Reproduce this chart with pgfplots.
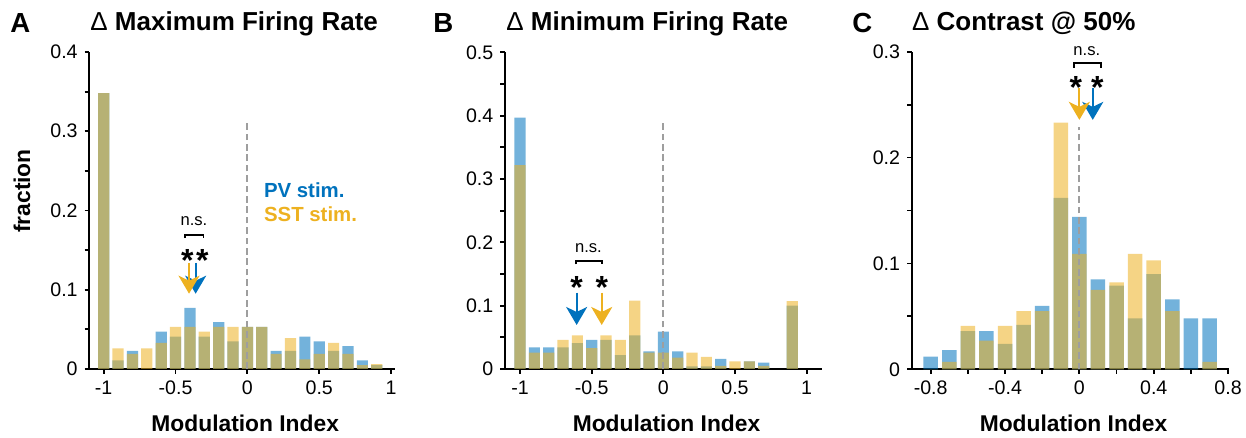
\documentclass[border=0pt]{standalone}
\usepackage{fontspec}
\setmainfont{Liberation Sans}
\usepackage{pgfplots}
\usepackage{pgfplotstable}
\pgfplotsset{compat=1.18}
\usetikzlibrary{arrows.meta}
\definecolor{pvblue}{HTML}{0072BD}
\definecolor{sstyel}{HTML}{EDB120}

\pgfplotstableread{
x pv sst
-1.0 0.348 0.348
-0.9 0.011 0.026
-0.8 0.023 0.019
-0.7 0.000 0.026
-0.6 0.047 0.033
-0.5 0.041 0.053
-0.4 0.077 0.053
-0.3 0.041 0.047
-0.2 0.059 0.053
-0.1 0.035 0.053
0.0 0.053 0.053
0.1 0.053 0.053
0.2 0.023 0.019
0.3 0.023 0.039
0.4 0.041 0.012
0.5 0.035 0.019
0.6 0.023 0.033
0.7 0.029 0.019
0.8 0.011 0.005
0.9 0.005 0.006
}\dataA

\pgfplotstableread{
x pv sst
-1.0 0.397 0.322
-0.9 0.034 0.026
-0.8 0.034 0.026
-0.7 0.034 0.046
-0.6 0.041 0.053
-0.5 0.046 0.033
-0.4 0.046 0.053
-0.3 0.022 0.046
-0.2 0.053 0.108
-0.1 0.028 0.026
0.0 0.059 0.026
0.1 0.028 0.018
0.2 0.004 0.026
0.3 0.004 0.019
0.4 0.016 0.005
0.5 0.000 0.012
0.6 0.012 0.012
0.7 0.010 0.005
0.9 0.100 0.107
}\dataB

\pgfplotstableread{
x pv sst
-0.8 0.012 0.000
-0.7 0.018 0.007
-0.6 0.036 0.041
-0.5 0.036 0.027
-0.4 0.024 0.041
-0.3 0.042 0.055
-0.2 0.060 0.055
-0.1 0.162 0.233
0.0 0.144 0.109
0.1 0.085 0.075
0.2 0.079 0.082
0.3 0.048 0.109
0.4 0.090 0.103
0.5 0.066 0.055
0.6 0.048 0.000
0.7 0.048 0.007
}\dataC

\newcommand{\tickfont}{\fontsize{9.8}{11}\selectfont}
\newcommand{\labfont}{\fontsize{11.4}{13}\selectfont\bfseries}
\newcommand{\legfont}{\fontsize{10.2}{12}\selectfont\bfseries}
\newcommand{\starfont}{\fontsize{16}{16}\selectfont\bfseries}
\newcommand{\nsfont}{\fontsize{8.3}{9}\selectfont}
\newcommand{\titfont}{\fontsize{13}{14}\selectfont\bfseries}
\newcommand{\letfont}{\fontsize{13.8}{15}\selectfont\bfseries}

\pgfplotsset{
  panel/.style={
    scale only axis, anchor=south west,
    axis lines=left, axis line style={-, line width=0.9pt},
    tick align=outside, major tick length=2.3pt, minor tick length=2.3pt,
    tick style={black, line width=0.9pt},
    clip=false, ymin=0,
    /pgf/number format/assume math mode=true,
    tick label style={font=\tickfont},
    label style={font=\labfont},
    xlabel={Modulation Index},
    xlabel style={at={(axis description cs:0.51,-0.196)}, anchor=base},
  },
  pvbar/.style={ybar, bar width=0.078, bar shift=0pt, draw=none, fill=pvblue, fill opacity=0.55},
  sstbar/.style={ybar, bar width=0.078, bar shift=0pt, draw=none, fill=sstyel, fill opacity=0.55},
  zeroline/.style={draw=black!38, line width=0.9pt, dash pattern=on 3.3pt off 1.9pt, mark=none},
  arr/.style={line width=1.1pt, mark=none, -{Stealth[length=9pt,width=10.5pt,inset=2.5pt]}},
}
\tikzset{
  star/.style={font=\starfont, anchor=base, yshift=-9.2pt, inner sep=0pt},
}

\begin{document}
\begin{tikzpicture}
\path[use as bounding box] (0,0) rectangle (623pt,219pt);

% ---------------- Panel A
\begin{axis}[panel, at={(44.65pt,34.5pt)}, width=152.85pt, height=158.5pt,
  xmin=-1.1, xmax=1.027, ymax=0.4,
  xtick={-1,-0.5,0,0.5,1}, xticklabels={-1,-0.5,0,0.5,1},
  ytick={0,0.1,0.2,0.3,0.4}, yticklabels={0,0.1,0.2,0.3,0.4},
  minor ytick={0.05,0.15,0.25,0.35},
  ylabel={fraction},
  ylabel style={at={(axis description cs:-0.220,0.5615)}, anchor=center},
]
\addplot[pvbar] table[x=x,y=pv]{\dataA};
\addplot[sstbar] table[x=x,y=sst]{\dataA};
\addplot[zeroline] coordinates {(0,0) (0,0.312)};
\addplot[arr, pvblue] coordinates {(-0.36,0.134) (-0.36,0.095)};
\addplot[arr, sstyel] coordinates {(-0.406,0.134) (-0.406,0.095)};
\node[star] at (axis cs:-0.4175,0.1467) {*};
\node[star] at (axis cs:-0.313,0.1467) {*};
\draw[line width=0.9pt] (axis cs:-0.435,0.165) -- (axis cs:-0.435,0.169) -- (axis cs:-0.306,0.169) -- (axis cs:-0.306,0.165);
\node[font=\nsfont, anchor=base, inner sep=0pt] at (axis cs:-0.372,0.1816) {n.s.};
\node[font=\legfont, text=pvblue, anchor=base west, inner sep=0pt] at (axis cs:0.113,0.216) {PV stim.};
\node[font=\legfont, text=sstyel, anchor=base west, inner sep=0pt] at (axis cs:0.113,0.186) {SST stim.};
\end{axis}

% ---------------- Panel B
\begin{axis}[panel, at={(252.5pt,34.5pt)}, width=158.35pt, height=158.35pt,
  xmin=-1.105, xmax=1.105, ymax=0.5,
  xtick={-1,-0.5,0,0.5,1}, xticklabels={-1,-0.5,0,0.5,1},
  ytick={0,0.1,0.2,0.3,0.4,0.5}, yticklabels={0,0.1,0.2,0.3,0.4,0.5},
  minor ytick={0.05,0.15,0.25,0.35,0.45},
]
\addplot[pvbar] table[x=x,y=pv]{\dataB};
\addplot[sstbar] table[x=x,y=sst]{\dataB};
\addplot[zeroline] coordinates {(0,0) (0,0.39)};
\addplot[arr, pvblue] coordinates {(-0.605,0.1205) (-0.605,0.0695)};
\addplot[arr, sstyel] coordinates {(-0.430,0.1205) (-0.430,0.0695)};
\node[star] at (axis cs:-0.605,0.1406) {*};
\node[star] at (axis cs:-0.430,0.1406) {*};
\draw[line width=0.9pt] (axis cs:-0.612,0.165) -- (axis cs:-0.612,0.171) -- (axis cs:-0.426,0.171) -- (axis cs:-0.426,0.165);
\node[font=\nsfont, anchor=base, inner sep=0pt] at (axis cs:-0.523,0.184) {n.s.};
\end{axis}

% ---------------- Panel C
\begin{axis}[panel, at={(455.85pt,34.35pt)}, width=158.65pt, height=158.8pt,
  xmin=-0.902, xmax=0.805, ymax=0.3,
  xtick={-0.8,-0.4,0,0.4,0.8}, xticklabels={-0.8,-0.4,0,0.4,0.8},
  minor xtick={-0.6,-0.2,0.2,0.6},
  ytick={0,0.1,0.2,0.3}, yticklabels={0,0.1,0.2,0.3},
  minor ytick={0.05,0.15,0.25},
]
\addplot[pvbar] table[x=x,y=pv]{\dataC};
\addplot[sstbar] table[x=x,y=sst]{\dataC};
\addplot[zeroline] coordinates {(0,0) (0,0.229)};
\addplot[arr, pvblue] coordinates {(0.072,0.2656) (0.072,0.2356)};
\addplot[arr, sstyel] coordinates {(0,0.2656) (0,0.2356)};
\node[star] at (axis cs:-0.019,0.2734) {*};
\node[star] at (axis cs:0.097,0.2734) {*};
\draw[line width=0.9pt] (axis cs:-0.027,0.285) -- (axis cs:-0.027,0.289) -- (axis cs:0.115,0.289) -- (axis cs:0.115,0.285);
\node[font=\nsfont, anchor=base, inner sep=0pt] at (axis cs:0.040,0.296) {n.s.};
\end{axis}

% ---------------- Titles and panel letters
\node[font=\letfont, anchor=base west, inner sep=0pt] at (5pt,202.7pt) {A};
\node[font=\titfont, anchor=base west, inner sep=0pt] at (45pt,203.6pt) {{\mdseries Δ} Maximum Firing Rate};
\node[font=\letfont, anchor=base west, inner sep=0pt] at (216.5pt,202.7pt) {B};
\node[font=\titfont, anchor=base west, inner sep=0pt] at (253pt,203.6pt) {{\mdseries Δ} Minimum Firing Rate};
\node[font=\letfont, anchor=base west, inner sep=0pt] at (426pt,202.7pt) {C};
\node[font=\titfont, anchor=base west, inner sep=0pt] at (455.85pt,203.6pt) {{\mdseries Δ} Contrast @ 50\%};
\end{tikzpicture}
\end{document}
